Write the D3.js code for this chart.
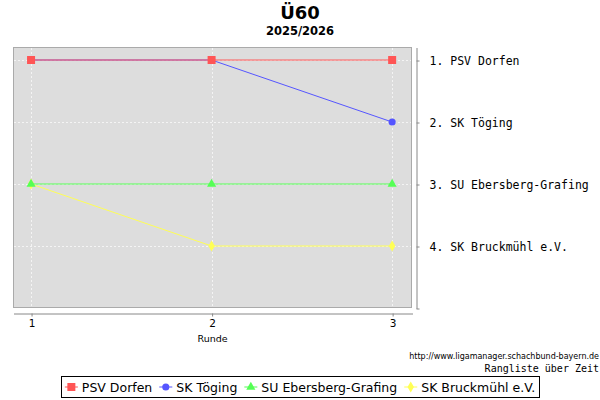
<!DOCTYPE html>
<html><head><meta charset="utf-8">
<script src="https://cdn.jsdelivr.net/npm/d3@7"></script>
<style>body{margin:0;background:#fff}svg{display:block}</style>
</head><body>
<svg id="c" width="600" height="400"></svg>
<script>
const title = "Ü60";
const subtitle = "2025/2026";
const rounds = [1, 2, 3];
const teams = ["PSV Dorfen", "SK Töging", "SU Ebersberg-Grafing", "SK Bruckmühl e.V."];
const rankPsv = [1, 1, 1];
const rankToeging = [1, 1, 2];
const rankEbersberg = [3, 3, 3];
const rankBruckmuehl = [3, 4, 4];
const finalLabels = ["1. PSV Dorfen", "2. SK Töging", "3. SU Ebersberg-Grafing", "4. SK Bruckmühl e.V."];
const rankTicks = [1, 2, 3, 4, 5];
const colors = ["#FF5555", "#5555FF", "#55FF55", "#FFFF55"];
const symbols = [d3.symbolSquare, d3.symbolCircle, d3.symbolTriangle, d3.symbolDiamond];
const symSizes = [64, 40, 36, 36];
const xLabel = "Runde";
const url = "http://www.ligamanager.schachbund-bayern.de";
const caption = "Rangliste über Zeit";

const seriesData = [rankPsv, rankToeging, rankEbersberg, rankBruckmuehl];

const svg = d3.select("#c");
const plot = {x0: 13, x1: 412, y0: 47, y1: 308};
const x = d3.scaleLinear().domain([0.9, 3.11]).range([plot.x0, plot.x1]);
const y = d3.scaleLinear().domain([0.79, 5]).range([plot.y0, plot.y1]);

// titles
svg.append("text").attr("x", 300).attr("y", 19).attr("text-anchor", "middle")
  .attr("font-family", "DejaVu Sans").attr("font-weight", "bold").attr("font-size", 18).text(title);
svg.append("text").attr("x", 300).attr("y", 35).attr("text-anchor", "middle")
  .attr("font-family", "DejaVu Sans").attr("font-weight", "bold").attr("font-size", 11.5).text(subtitle);

// plot background
svg.append("rect").attr("x", plot.x0 + 0.5).attr("y", plot.y0 + 0.5)
  .attr("width", plot.x1 - plot.x0 - 1).attr("height", plot.y1 - plot.y0 - 1)
  .attr("fill", "#DDDDDD").attr("stroke", "#AAAAAA");

// grid
const grid = svg.append("g").attr("stroke", "#F4F4F4").attr("stroke-width", 1).attr("stroke-dasharray", "2,2");
rounds.forEach(r => grid.append("line").attr("x1", Math.round(x(r)) + 0.5).attr("x2", Math.round(x(r)) + 0.5)
  .attr("y1", plot.y0 + 1).attr("y2", plot.y1 - 1));
[1, 2, 3, 4].forEach(r => grid.append("line").attr("y1", Math.round(y(r)) + 0.5).attr("y2", Math.round(y(r)) + 0.5)
  .attr("x1", plot.x0 + 1).attr("x2", plot.x1 - 1));

// x axis
const xAxis = d3.axisBottom(x).tickValues(rounds).tickFormat(d3.format("d")).tickSize(3).tickSizeOuter(0).tickPadding(3);
const gx = svg.append("g").attr("transform", `translate(0.5,${plot.y1 + 5.5})`).call(xAxis);
gx.select(".domain").attr("stroke", "#888888");
gx.selectAll(".tick line").attr("stroke", "#888888");
gx.selectAll(".tick text").attr("font-family", "DejaVu Sans").attr("font-size", 10.5).attr("fill", "#000");
svg.append("text").attr("x", (plot.x0 + plot.x1) / 2).attr("y", 342).attr("text-anchor", "middle")
  .attr("font-family", "DejaVu Sans").attr("font-size", 9.5).text(xLabel);

// right axis
const yAxis = d3.axisRight(y).tickValues(rankTicks)
  .tickFormat(d => finalLabels[d - 1] || "").tickSize(3).tickSizeOuter(0).tickPadding(10);
const gy = svg.append("g").attr("transform", `translate(416.5,0.5)`).call(yAxis);
gy.select(".domain").attr("stroke", "#888888");
gy.selectAll(".tick line").attr("stroke", "#888888");
gy.selectAll(".tick text").attr("font-family", "DejaVu Sans Mono").attr("font-size", 11.5).attr("fill", "#000");

// series (drawn in reverse order so first series is on top)
const line = d3.line().x((d, i) => x(rounds[i])).y(d => y(d));
for (let s = seriesData.length - 1; s >= 0; s--) {
  const g = svg.append("g");
  g.append("path").datum(seriesData[s]).attr("d", line).attr("fill", "none")
    .attr("stroke", colors[s]).attr("stroke-width", 1);
  g.selectAll("path.m").data(seriesData[s]).join("path").attr("class", "m")
    .attr("transform", (d, i) => `translate(${x(rounds[i])},${y(d)})`)
    .attr("d", d3.symbol().type(symbols[s]).size(symSizes[s])).attr("fill", colors[s]);
}

// footer
svg.append("text").attr("x", 599).attr("y", 359).attr("text-anchor", "end")
  .attr("font-family", "DejaVu Sans").attr("font-size", 8).text(url);
svg.append("text").attr("x", 599).attr("y", 372).attr("text-anchor", "end")
  .attr("font-family", "DejaVu Sans Mono").attr("font-size", 10).text(caption);

// legend
const lg = svg.append("g");
let cx = 0;
teams.forEach((t, i) => {
  const it = lg.append("g");
  it.append("line").attr("x1", 0).attr("x2", 13).attr("y1", 0).attr("y2", 0).attr("stroke", colors[i]);
  it.append("path").attr("transform", "translate(6.5,0)")
    .attr("d", d3.symbol().type(symbols[i]).size(symSizes[i])).attr("fill", colors[i]);
  const tx = it.append("text").attr("x", 17).attr("y", 4.5).attr("font-family", "DejaVu Sans")
    .attr("font-size", 12.5).text(t);
  it.attr("transform", `translate(${cx},0)`);
  cx += 17 + tx.node().getComputedTextLength() + 7;
});
const totalW = cx - 7;
const lx = 300 - totalW / 2;
lg.attr("transform", `translate(${lx},387)`);
svg.append("rect").attr("x", Math.round(lx - 4) + 0.5).attr("y", 376.5)
  .attr("width", Math.round(totalW + 8)).attr("height", 21).attr("fill", "none").attr("stroke", "#000");
</script>
</body></html>
